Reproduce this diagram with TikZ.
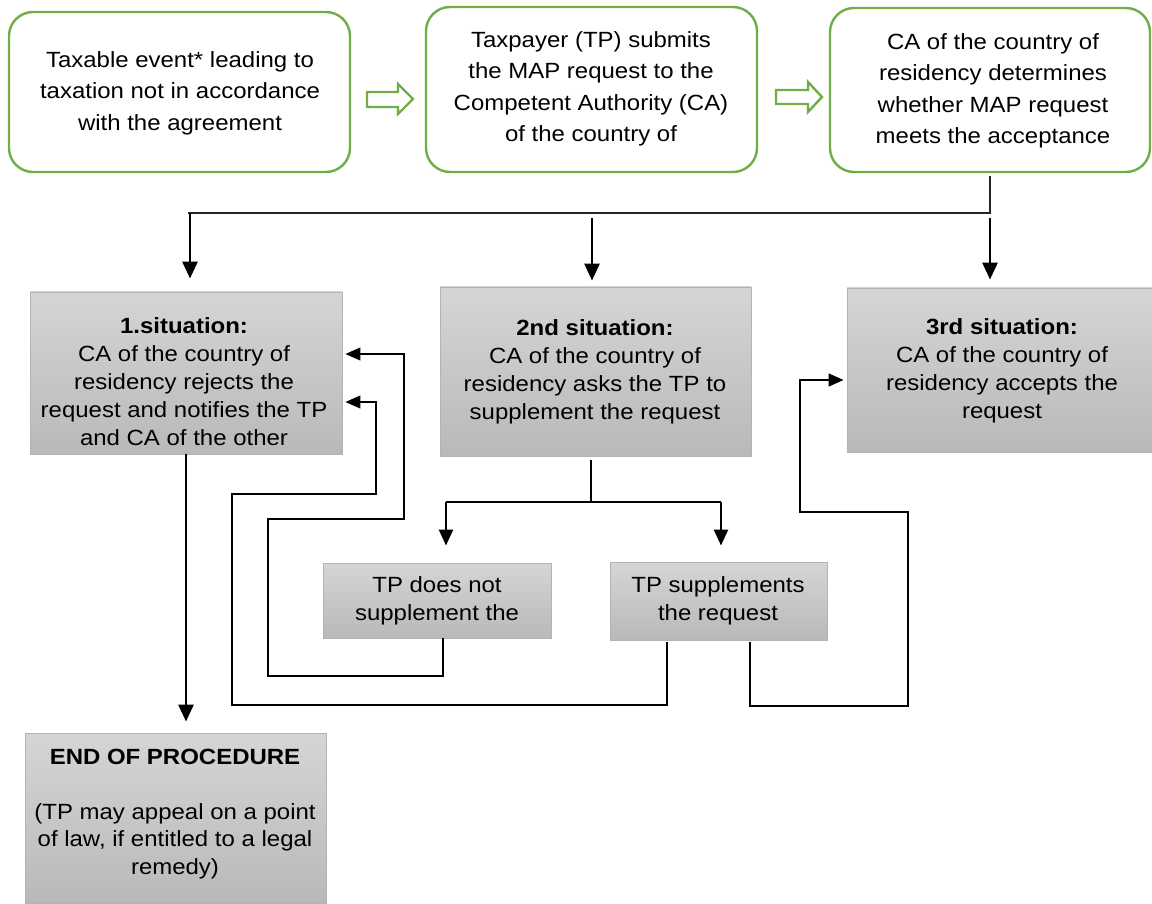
\documentclass[tikz,border=0pt]{standalone}
\usepackage{fontspec}
\setmainfont{Liberation Sans}[FakeStretch=1.09]
\usetikzlibrary{arrows.meta}

\definecolor{tgreen}{HTML}{70AD47}
\definecolor{gtop}{HTML}{D5D5D5}
\definecolor{gbot}{HTML}{B9B9B9}
\definecolor{gborder}{HTML}{B3B3B3}

\tikzset{
  greenbox/.style={draw=tgreen, line width=2.4pt, rounded corners=24pt, fill=white, inner sep=0pt},
  greybox/.style={draw=gborder, line width=0.9pt, top color=gtop, bottom color=gbot, inner sep=0pt},
  toptxt/.style={align=center, inner sep=0pt, font=\fontsize{22}{31.5}\selectfont},
  boxtxt/.style={align=center, inner sep=0pt, font=\fontsize{22}{28}\selectfont},
  hollow/.style={draw=tgreen, line width=2.4pt, fill=white, line join=miter},
  busline/.style={line width=1.7pt, draw=black!85},
  feed/.style={line width=1.3pt},
  arr/.style={line width=2.8pt, -{Triangle[length=17pt,width=15pt]}},
  midarr/.style={line width=2.4pt, -{Triangle[length=16pt,width=14pt]}},
  thinarr/.style={line width=1.3pt, -{Triangle[length=15pt,width=13pt]}},
}

\begin{document}
\begin{tikzpicture}[x=1pt,y=-1pt]
\useasboundingbox (0,0) rectangle (1152,904);

% top row: rounded green boxes
\node[greenbox, minimum width=341pt, minimum height=160pt] (t1) at (179.5,92) {};
\node[greenbox, minimum width=331pt, minimum height=165pt] (t2) at (591.5,89.5) {};
\node[greenbox, minimum width=320pt, minimum height=164pt] (t3) at (990,90) {};
\node[toptxt] (t1txt) at (180,93) {Taxable event* leading to\\taxation not in accordance\\with the agreement};
\node[toptxt] (t2txt) at (591,89) {Taxpayer (TP) submits\\the MAP request to the\\Competent Authority (CA)\\of the country of};
\node[toptxt] (t3txt) at (993,91) {CA of the country of\\residency determines\\whether MAP request\\meets the acceptance};

% hollow block arrows between the top boxes
\draw[hollow] (367,92) -- (398,92) -- (398,84) -- (413,99) -- (398,114) -- (398,107) -- (367,107) -- cycle;
\draw[hollow] (776,90) -- (808,90) -- (808,82) -- (822,97) -- (808,112) -- (808,104) -- (776,104) -- cycle;

% second row: the three situations
\node[greybox, minimum width=312pt, minimum height=162pt] (s1) at (186,373) {};
\node[greybox, minimum width=311pt, minimum height=169pt] (s2) at (595.5,371.5) {};
\node[greybox, minimum width=306pt, minimum height=164pt] (s3) at (1000,370) {};
\node[boxtxt] (s1txt) at (184,382) {\textbf{1.situation:}\\CA of the country of\\residency rejects the\\request and notifies the TP\\and CA of the other};
\node[boxtxt] (s2txt) at (595,372) {\textbf{2nd situation:}\\CA of the country of\\residency asks the TP to\\supplement the request};
\node[boxtxt] (s3txt) at (1002,371) {\textbf{3rd situation:}\\CA of the country of\\residency accepts the\\request};

% third row: taxpayer's reaction
\node[greybox, minimum width=228pt, minimum height=75pt] (n1) at (437,600.5) {};
\node[greybox, minimum width=217pt, minimum height=78pt] (n2) at (718.5,601) {};
\node[boxtxt] (n1txt) at (437,601) {TP does not\\supplement the};
\node[boxtxt] (n2txt) at (718,601) {TP supplements\\the request};

% end of procedure
\node[greybox, minimum width=301pt, minimum height=170pt] (e) at (175.5,818) {};
\node[boxtxt, font=\fontsize{22}{27.5}\selectfont] (etxt) at (175,814) {\textbf{END OF PROCEDURE}\\[27.5pt](TP may appeal on a point\\of law, if entitled to a legal\\remedy)};

% distribution from the acceptance check
\coordinate (bus) at (990,213);
\coordinate (busL) at (188,213);
\draw[busline, shorten <=3pt] (t3.south) -- (bus) -- (busL);
\coordinate (a1) at (190,213);
\coordinate (a2) at (592,218);
\coordinate (a3) at (990,218);
\draw[arr, shorten >=13pt] (a1) -- (a1 |- s1.north);
\draw[arr, shorten >=6pt] (a2) -- (a2 |- s2.north);
\draw[arr, shorten >=8pt] (a3) -- (a3 |- s3.north);

% rejection leads to the end of the procedure
\draw[arr, shorten >=11pt] (s1.south) -- (s1.south |- e.north);

% split after the request to supplement
\coordinate (c2) at (591,502);
\coordinate (c2L) at (446,502);
\coordinate (c2R) at (721,502);
\draw[feed, shorten <=4pt] (c2 |- s2.south) -- (c2);
\draw[feed] (c2L) -- (c2R);
\draw[midarr, shorten >=17pt] (c2L) -- (c2L |- n1.north);
\draw[midarr, shorten >=16pt] (c2R) -- (c2R |- n2.north);

% not supplemented: back to rejection
\coordinate (f1) at (443,676);
\coordinate (g1) at (404,354);
\draw[thinarr, shorten >=3pt] (f1 |- n1.south) -- (f1) -- (268,676) -- (268,519) -- (404,519) -- (g1) -- (g1 -| s1.east);

% supplemented but still rejected
\coordinate (f2) at (667,705);
\coordinate (g2) at (376,402);
\draw[thinarr, shorten >=3pt, shorten <=2pt] (f2 |- n2.south) -- (f2) -- (232,705) -- (232,494) -- (376,494) -- (g2) -- (g2 -| s1.east);

% supplemented and accepted
\coordinate (f3) at (750,706);
\coordinate (g3) at (800,380);
\draw[thinarr, shorten >=3pt, shorten <=2pt] (f3 |- n2.south) -- (f3) -- (908,706) -- (908,512) -- (800,512) -- (g3) -- (g3 -| s3.west);
\end{tikzpicture}
\end{document}
